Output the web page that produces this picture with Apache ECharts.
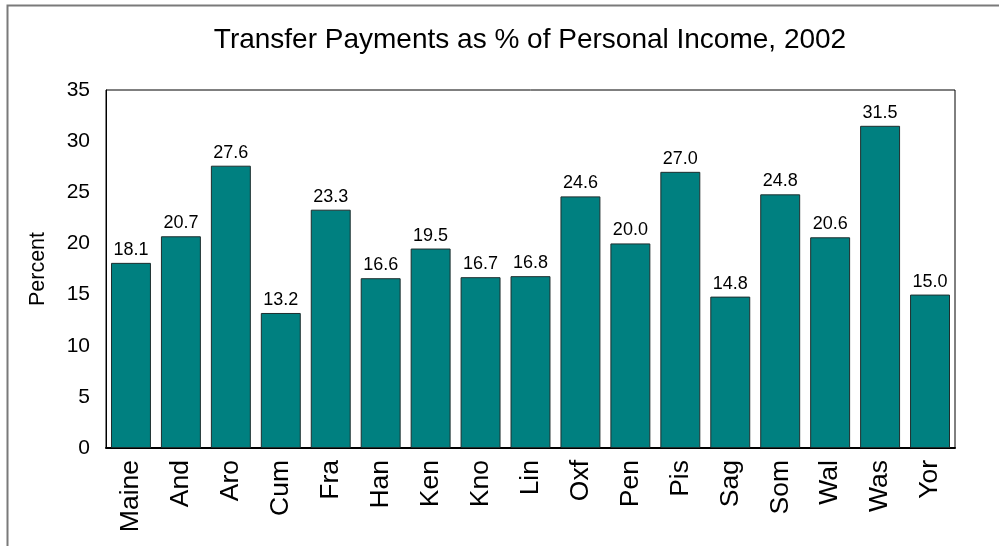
<!DOCTYPE html>
<html>
<head>
<meta charset="utf-8">
<script src="https://cdn.jsdelivr.net/npm/echarts@6/dist/echarts.min.js"></script>
<style>
  html, body { margin: 0; padding: 0; background: #fff; }
  #chart { width: 999px; height: 546px; }
</style>
</head>
<body>
<div id="chart"></div>
<script>
// Transfer payments share of personal income by county, 2002
const titleText = 'Transfer Payments as % of Personal Income, 2002';
const counties = ['Maine', 'And', 'Aro', 'Cum', 'Fra', 'Han', 'Ken', 'Kno', 'Lin',
                  'Oxf', 'Pen', 'Pis', 'Sag', 'Som', 'Wal', 'Was', 'Yor'];
const percentValues = [18.1, 20.7, 27.6, 13.2, 23.3, 16.6, 19.5, 16.7, 16.8,
                       24.6, 20.0, 27.0, 14.8, 24.8, 20.6, 31.5, 15.0];
const yTicks = [0, 5, 10, 15, 20, 25, 30, 35];

const FONT = '"Liberation Sans", Arial, sans-serif';

const chart = echarts.init(document.getElementById('chart'), null, { renderer: 'canvas' });

chart.setOption({
  backgroundColor: '#fff',
  animation: false,
  title: {
    text: titleText,
    left: 525,
    top: 21,
    textAlign: 'center',
    textStyle: { fontFamily: FONT, fontSize: 28, fontWeight: 'normal', color: '#000' }
  },
  graphic: [{
    type: 'rect',
    silent: true,
    shape: { x: 7.5, y: 5.5, width: 1100, height: 700 },
    style: { fill: null, stroke: '#7a7a7a', lineWidth: 2 }
  }],
  grid: {
    left: 106, right: 44, top: 90, bottom: 98,
    show: true, borderColor: '#000', borderWidth: 1, backgroundColor: '#fff'
  },
  xAxis: {
    type: 'category',
    data: counties,
    axisLine: { show: true, lineStyle: { color: '#000', width: 2 } },
    axisTick: { show: false },
    axisLabel: {
      rotate: 90, margin: 12, interval: 0,
      fontFamily: FONT, fontSize: 26.5, color: '#000'
    }
  },
  yAxis: {
    type: 'value',
    min: yTicks[0], max: yTicks[yTicks.length - 1], interval: 5,
    name: 'Percent',
    nameLocation: 'middle',
    nameGap: 57,
    nameRotate: 90,
    nameTextStyle: { fontFamily: FONT, fontSize: 21.5, color: '#000' },
    axisLine: { show: true, lineStyle: { color: '#000', width: 1 } },
    axisTick: { show: false },
    splitLine: { show: false },
    axisLabel: { margin: 16, fontFamily: FONT, fontSize: 21, color: '#000' }
  },
  series: [{
    type: 'bar',
    data: percentValues,
    barCategoryGap: '20%',
    itemStyle: { color: '#008080', borderColor: '#1e2e2e', borderWidth: 1 },
    label: {
      show: true, position: 'top', distance: 4,
      fontFamily: FONT, fontSize: 18, color: '#000',
      formatter: p => p.value.toFixed(1)
    }
  }]
});
</script>
</body>
</html>
